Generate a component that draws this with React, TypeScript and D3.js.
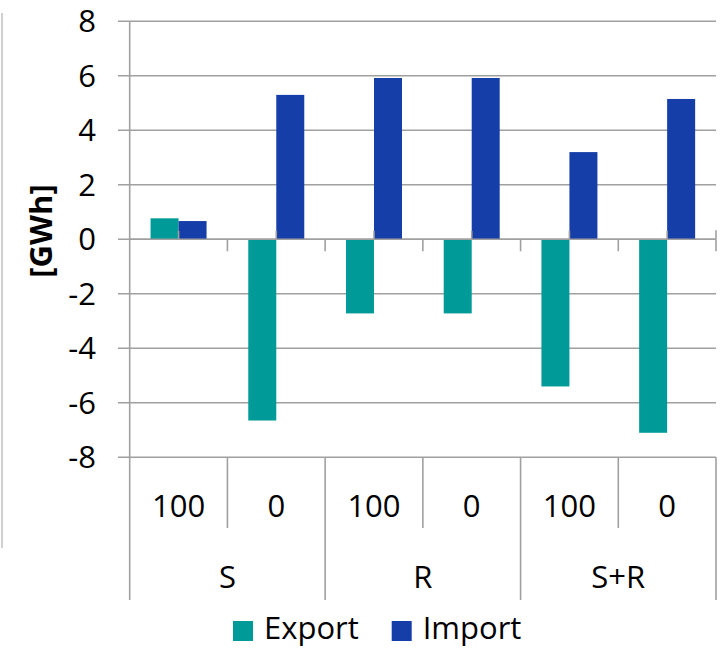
import * as d3 from "d3";
import React from "react";

const W = 721;
const H = 648;

// chart values
const groups = ["S", "R", "S+R"];
const subLabels = ["100", "0"];
const exportVals = [0.77, -6.65, -2.72, -2.72, -5.4, -7.1];
const importVals = [0.67, 5.3, 5.92, 5.92, 3.2, 5.15];
const yTicks = [-8, -6, -4, -2, 0, 2, 4, 6, 8];
const seriesNames = ["Export", "Import"];
const seriesColors = ["#009b98", "#163ea8"];

const FONT = "'Open Sans', sans-serif";
const GRID = "#a0a0a0";

export default function App() {
  const cats = groups.flatMap((g) => subLabels.map((s) => `${g}|${s}`));

  const x = d3.scaleBand<string>().domain(cats).range([129.7, 716]).padding(0);
  const xg = d3.scaleBand<string>().domain(groups).range([129.7, 716]).padding(0);
  const xs = d3
    .scaleBand<string>()
    .domain(seriesNames)
    .range([0, x.bandwidth()])
    .paddingInner(0)
    .paddingOuter(0.745);
  const y = d3.scaleLinear().domain([-8, 8]).range([457.3, 21.3]);

  const values = [exportVals, importVals];
  const y0 = y(0);
  const bottom = y(-8);

  return (
    <svg
      width={W}
      height={H}
      style={{ position: "absolute", left: 0, top: 0, background: "#fff" }}
    >
      {/* neighbouring frame line */}
      <line x1={2} x2={2} y1={13} y2={548} stroke="#c0c0c0" strokeWidth={1.5} />

      {/* gridlines + y ticks */}
      <g>
        {yTicks.map((t) => (
          <g key={t}>
            <line x1={118} x2={716} y1={y(t)} y2={y(t)} stroke={GRID} strokeWidth={1.6} />
            <text
              x={96}
              y={y(t) + 11}
              textAnchor="end"
              fontFamily={FONT}
              fontSize={31}
              fill="#000"
            >
              {t}
            </text>
          </g>
        ))}
      </g>

      <text
        transform={`translate(52,231) rotate(-90)`}
        textAnchor="middle"
        fontFamily={FONT}
        fontSize={31}
        fontWeight="bold"
        fill="#000"
      >
        [GWh]
      </text>

      {/* bars */}
      <g>
        {values.map((vals, si) =>
          vals.map((v, i) => {
            const bx = (x(cats[i]) ?? 0) + (xs(seriesNames[si]) ?? 0);
            const top = Math.min(y(v), y0);
            return (
              <rect
                key={`${si}-${i}`}
                x={bx}
                y={top}
                width={xs.bandwidth()}
                height={Math.abs(y(v) - y0)}
                fill={seriesColors[si]}
              />
            );
          })
        )}
      </g>

      {/* zero axis with its ticks */}
      <g stroke={GRID} strokeWidth={1.6}>
        <line x1={129.7} x2={716} y1={y0} y2={y0} />
        {cats.map((c) => {
          const left = x(c) ?? 0;
          const right = left + x.bandwidth();
          const mid = left + x.bandwidth() / 2;
          return (
            <g key={c}>
              <line x1={mid} x2={mid} y1={y0 - 8.5} y2={y0} />
              <line x1={right} x2={right} y1={y0} y2={y0 + 12} />
            </g>
          );
        })}
        <line x1={716} x2={716} y1={y0 - 9} y2={y0} />
      </g>

      {/* left axis */}
      <line x1={129.7} x2={129.7} y1={y(8)} y2={600} stroke={GRID} strokeWidth={1.6} />

      {/* multi-level category axis */}
      <g stroke={GRID} strokeWidth={1.6}>
        {cats.map((c, i) => {
          const right = (x(c) ?? 0) + x.bandwidth();
          const isGroupEnd = i % subLabels.length === subLabels.length - 1;
          return (
            <line
              key={c}
              x1={right}
              x2={right}
              y1={bottom}
              y2={isGroupEnd ? 600 : 528}
            />
          );
        })}
      </g>
      <g fontFamily={FONT} fontSize={31} fill="#000" textAnchor="middle">
        {cats.map((c) => (
          <text key={c} x={(x(c) ?? 0) + x.bandwidth() / 2} y={517}>
            {c.split("|")[1]}
          </text>
        ))}
        {groups.map((g) => (
          <text key={g} x={(xg(g) ?? 0) + xg.bandwidth() / 2} y={588}>
            {g}
          </text>
        ))}
      </g>

      {/* legend */}
      <g fontFamily={FONT} fontSize={31} fill="#000">
        {seriesNames.map((s, i) => {
          const lx = i === 0 ? 233 : 391.7;
          return (
            <g key={s}>
              <rect x={lx} y={621} width={20} height={20} fill={seriesColors[i]} />
              <text x={lx + 31} y={639.3}>
                {s}
              </text>
            </g>
          );
        })}
      </g>
    </svg>
  );
}
